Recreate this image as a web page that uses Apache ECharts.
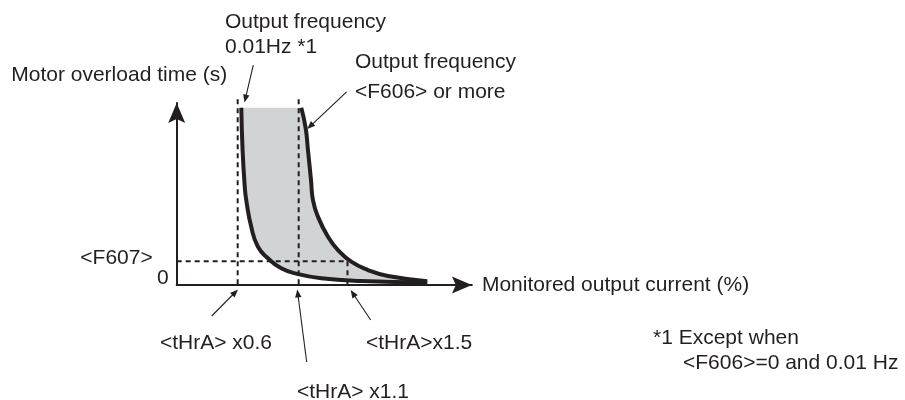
<!DOCTYPE html>
<html>
<head>
<meta charset="utf-8">
<script src="https://cdn.jsdelivr.net/npm/echarts@6/dist/echarts.min.js"></script>
<style>
  html, body { margin: 0; padding: 0; background: #ffffff; }
  #chart { width: 905px; height: 400px; }
</style>
</head>
<body>
<div id="chart"></div>
<script>
// Current axis, in multiples of <tHrA>
const currentMin = 0.1;
const currentMax = 2.52;
const thresholdMultiples = [0.6, 1.1, 1.5];
const thresholdLabels = ['<tHrA> x0.6', '<tHrA> x1.1', '<tHrA>x1.5'];

// Time axis (schematic units)
const timeMax = 100;
const f607Time = 13;
const guideTop = 102;
const timeTickValues = [0, f607Time];
const timeTickLabels = ['0', '<F607>'];

// Overload curve at output frequency 0.01 Hz
const lowFreqCurrent = [0.6295, 0.640, 0.657, 0.670, 0.711, 0.766, 0.848, 0.957, 1.094, 1.285, 1.613, 2.154];
const lowFreqTime    = [97.4, 74.2, 54.9, 46.7, 32.0, 21.0, 14.7, 9.2, 6.0, 3.7, 2.2, 1.4];

// Overload curve at output frequency <F606> or more
const highFreqCurrent = [1.121, 1.157, 1.176, 1.201, 1.217, 1.258, 1.340, 1.422, 1.531, 1.668, 1.832, 2.154];
const highFreqTime    = [97.4, 86.3, 74.2, 57.7, 46.7, 37.5, 26.5, 19.2, 12.8, 8.2, 4.9, 2.1];

const INK = '#231f20';
const FILL = '#d1d3d4';
const FONT_FAMILY = '"Liberation Sans", Arial, Helvetica, sans-serif';
const FONT_SIZE = 21;
const FONT = FONT_SIZE + 'px ' + FONT_FAMILY;
const ARROW = 'path://M0,0 L8.5,20 L0,16 L-8.5,20 Z';

const zip = (xs, ys) => xs.map((x, i) => [x, ys[i]]);

// dashed guide segments: [x0, y0, x1, y1]
const guideSegments = [
  [thresholdMultiples[0], guideTop, thresholdMultiples[0], 0],
  [thresholdMultiples[1], guideTop, thresholdMultiples[1], 0],
  [thresholdMultiples[2], f607Time, thresholdMultiples[2], 0],
  [currentMin, f607Time, thresholdMultiples[2], f607Time]
];

const chart = echarts.init(document.getElementById('chart'), null, { renderer: 'canvas' });

const guideSeries = guideSegments.map(function (g) {
  return {
    type: 'line',
    z: 2,
    clip: false,
    silent: true,
    showSymbol: false,
    lineStyle: { color: INK, width: 2, type: [5, 4] },
    data: [[g[0], g[1]], [g[2], g[3]]]
  };
});

const option = {
  animation: false,
  backgroundColor: '#ffffff',
  textStyle: { fontFamily: FONT_FAMILY },
  grid: {
    left: 176.7,
    right: 433.1,
    top: 103,
    bottom: 115,
    containLabel: false,
    outerBoundsMode: 'none'
  },
  xAxis: {
    type: 'value',
    min: currentMin,
    max: currentMax,
    axisLine: {
      show: true,
      onZero: false,
      symbol: ['none', ARROW],
      symbolSize: [17, 20],
      symbolOffset: [0, -10],
      lineStyle: { color: INK, width: 2 }
    },
    axisTick: { show: false },
    axisLabel: { show: false },
    splitLine: { show: false },
    name: 'Monitored output current (%)',
    nameLocation: 'end',
    nameGap: 10,
    nameTextStyle: {
      fontFamily: FONT_FAMILY,
      fontSize: FONT_SIZE,
      color: INK,
      align: 'left',
      verticalAlign: 'middle',
      padding: [4, 0, 0, 0]
    }
  },
  yAxis: {
    type: 'value',
    min: 0,
    max: timeMax,
    axisLine: {
      show: true,
      onZero: false,
      symbol: ['none', ARROW],
      symbolSize: [17, 20],
      symbolOffset: [0, -10],
      lineStyle: { color: INK, width: 2 }
    },
    axisTick: { show: false },
    splitLine: { show: false },
    axisLabel: {
      show: true,
      customValues: timeTickValues,
      margin: 8,
      color: INK,
      fontFamily: FONT_FAMILY,
      fontSize: FONT_SIZE,
      formatter: function (v) {
        const i = timeTickValues.indexOf(v);
        return i === 0 ? '{zero|' + timeTickLabels[0] + '}' : '{ref|' + timeTickLabels[i] + '}';
      },
      rich: {
        zero: { fontFamily: FONT_FAMILY, fontSize: FONT_SIZE, color: INK, padding: [0, 0, 14, 0] },
        ref: { fontFamily: FONT_FAMILY, fontSize: FONT_SIZE, color: INK, padding: [0, 16, 6, 0] }
      }
    },
    name: 'Motor overload time (s)',
    nameLocation: 'end',
    nameGap: 28,
    nameTextStyle: {
      fontFamily: FONT_FAMILY,
      fontSize: FONT_SIZE,
      color: INK,
      align: 'center',
      verticalAlign: 'middle',
      padding: [0, 115, 0, 0]
    }
  },
  series: [
    {
      // shaded band between the two overload curves
      type: 'custom',
      name: 'band',
      z: 1,
      silent: true,
      clip: false,
      data: [[currentMin, 0]],
      renderItem: function (params, api) {
        const pts = [];
        for (let i = 0; i < lowFreqCurrent.length; i++) {
          pts.push(api.coord([lowFreqCurrent[i], lowFreqTime[i]]));
        }
        for (let i = highFreqCurrent.length - 1; i >= 0; i--) {
          pts.push(api.coord([highFreqCurrent[i], highFreqTime[i]]));
        }
        return { type: 'polygon', shape: { points: pts }, style: { fill: FILL, stroke: null } };
      }
    }
  ].concat(guideSeries, [
    {
      type: 'line',
      name: 'Output frequency 0.01Hz',
      z: 3,
      clip: false,
      smooth: 0.5,
      showSymbol: false,
      lineStyle: { color: INK, width: 4, cap: 'butt' },
      data: zip(lowFreqCurrent, lowFreqTime)
    },
    {
      type: 'line',
      name: 'Output frequency <F606> or more',
      z: 3,
      clip: false,
      smooth: 0.5,
      showSymbol: false,
      lineStyle: { color: INK, width: 4, cap: 'butt' },
      data: zip(highFreqCurrent, highFreqTime)
    }
  ])
};

chart.setOption(option);

// ---- callouts: text + leader arrow, anchored to points in data space ----
const callouts = [
  { anchor: [lowFreqCurrent[0], lowFreqTime[0]], tip: [3.2, -5.2], tail: [12, -42.7],
    lines: [['Output frequency', -16.3, -85.2], ['0.01Hz *1', -16.3, -60.2]] },
  { anchor: [highFreqCurrent[1], highFreqTime[1]], tip: [1.6, 1], tail: [41, -36],
    lines: [['Output frequency', 49.3, -65.5], ['<F606> or more', 49.3, -35.5]] },
  { anchor: [thresholdMultiples[0], 0], tip: [0.3, 4.5], tail: [-26, 31],
    lines: [[thresholdLabels[0], -77.7, 58]] },
  { anchor: [thresholdMultiples[1], 0], tip: [-1.4, 4.5], tail: [8, 77],
    lines: [[thresholdLabels[1], -1.7, 107]] },
  { anchor: [thresholdMultiples[2], 0], tip: [3.2, 5], tail: [23.2, 35],
    lines: [[thresholdLabels[2], 18.5, 58]] }
];

const footnote = [
  ['*1 Except when', 653, 338],
  ['<F606>=0 and 0.01 Hz', 683, 363]
];

function textEl(str, x, y) {
  return {
    type: 'text', x: x, y: y, silent: true, z: 10,
    style: { text: str, font: FONT, fill: INK, align: 'left', verticalAlign: 'middle' }
  };
}

function arrowEls(tip, tail) {
  const dx = tip[0] - tail[0], dy = tip[1] - tail[1];
  const len = Math.hypot(dx, dy);
  const ux = dx / len, uy = dy / len;
  const headLen = 8, headHalf = 3.2;
  const bx = tip[0] - ux * headLen, by = tip[1] - uy * headLen;
  return [
    { type: 'line', silent: true, z: 10,
      shape: { x1: tail[0], y1: tail[1], x2: bx + ux * 2, y2: by + uy * 2 },
      style: { stroke: INK, lineWidth: 1.1 } },
    { type: 'polygon', silent: true, z: 10,
      shape: { points: [tip, [bx - uy * headHalf, by + ux * headHalf], [bx + uy * headHalf, by - ux * headHalf]] },
      style: { fill: INK } }
  ];
}

const graphics = [];
callouts.forEach(function (c) {
  const p = chart.convertToPixel({ gridIndex: 0 }, c.anchor);
  const tip = [p[0] + c.tip[0], p[1] + c.tip[1]];
  const tail = [p[0] + c.tail[0], p[1] + c.tail[1]];
  arrowEls(tip, tail).forEach(function (e) { graphics.push(e); });
  c.lines.forEach(function (l) { graphics.push(textEl(l[0], p[0] + l[1], p[1] + l[2])); });
});
footnote.forEach(function (f) { graphics.push(textEl(f[0], f[1], f[2])); });

chart.setOption({ graphic: graphics });
</script>
</body>
</html>
